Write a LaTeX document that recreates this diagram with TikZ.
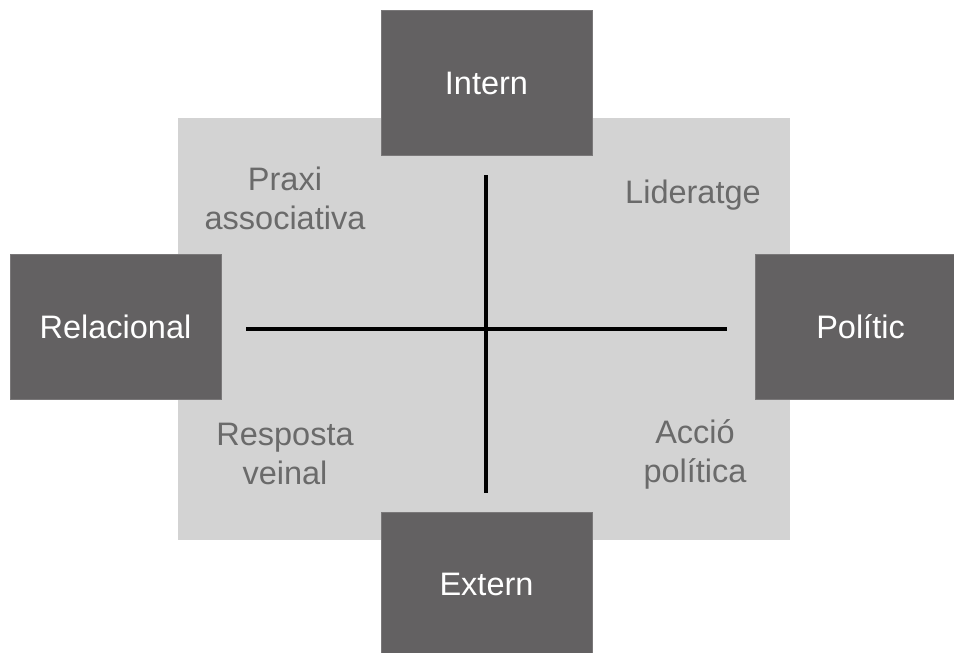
\documentclass[tikz,border=0pt]{standalone}
\usepackage{fontspec}
\setmainfont{Liberation Sans}
\definecolor{bgpanel}{HTML}{D3D3D3}
\definecolor{darkbox}{HTML}{636162}
\definecolor{boxedge}{HTML}{7A7879}
\definecolor{quadtext}{HTML}{6A6A6A}
\tikzset{
  axisbox/.style={fill=darkbox, draw=boxedge, line width=0.6pt, minimum width=211pt, minimum height=145pt, inner sep=0pt, text=white, font=\fontsize{32.5}{39}\selectfont},
  quadlabel/.style={text=quadtext, align=center, font=\fontsize{32.5}{38.5}\selectfont, inner sep=0pt},
  axisline/.style={line width=4pt, black}
}
\begin{document}
\begin{tikzpicture}[x=1pt,y=-1pt]
\clip (0,0) rectangle (954,653);
\fill[white] (0,0) rectangle (954,653);
\node[fill=bgpanel, minimum width=612pt, minimum height=422pt, inner sep=0pt, anchor=north west] (panel) at (178,118) {};
\coordinate (vtop) at (486,175);
\coordinate (vbot) at (486,493);
\coordinate (hleft) at (246,329);
\coordinate (hright) at (727,329);
\draw[axisline] (vtop) -- (vbot);
\draw[axisline] (hleft) -- (hright);
\node[axisbox] (intern) at (486.5,83) {Intern};
\node[axisbox] (extern) at (486.5,584.5) {Extern};
\node[axisbox] (relacional) at (115.5,326.5) {Relacional};
\node[axisbox] (politic) at (860.5,326.5) {Polític};
\node[quadlabel, anchor=base] (praxi) at (285,229) {Praxi\\associativa};
\node[quadlabel, anchor=base] (lider) at (693,203) {Lideratge};
\node[quadlabel, anchor=base] (resposta) at (285,484) {Resposta\\veinal};
\node[quadlabel, anchor=base] (accio) at (695,482) {Acció\\política};
\end{tikzpicture}
\end{document}
